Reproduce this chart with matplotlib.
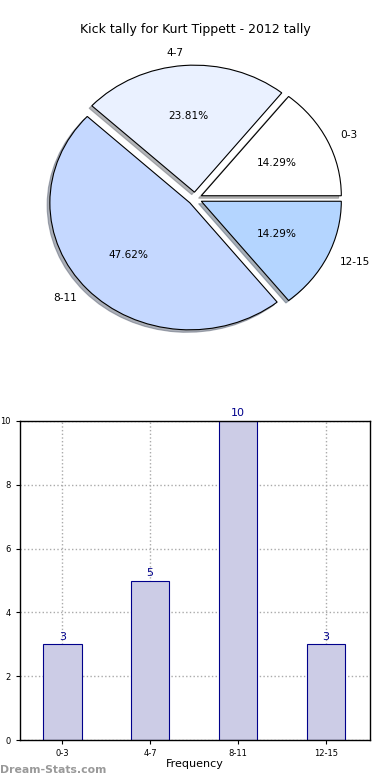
import matplotlib
matplotlib.use("Agg")
import matplotlib.pyplot as plt

# data
categories = ["0-3", "4-7", "8-11", "12-15"]
counts = [3, 5, 10, 3]
pie_colors = ["#ffffff", "#eaf1ff", "#c5d8ff", "#b4d5ff"]
title = "Kick tally for Kurt Tippett - 2012 tally"

plt.rcParams['font.family'] = ['DejaVu Sans']

fig = plt.figure(figsize=(3.9, 7.8), dpi=100)
fig.patch.set_facecolor("white")

# ---- pie (slightly squashed, like old matplotlib without equal aspect) ----
Rx, Ry = 140.0, 127.0
axp = fig.add_axes([0, 1 - (198.5 + 195) / 780, 1, 390 / 780])
axp.set_axis_off()
wedges, texts, autotexts = axp.pie(
    counts, labels=categories, colors=pie_colors, explode=[0.05] * 4,
    autopct="%1.2f%%", shadow=dict(ox=-0.014, oy=-0.014, shade=0.55),
    startangle=0, counterclock=True,
    wedgeprops=dict(edgecolor="black", linewidth=0.8),
    textprops=dict(fontsize=7.6))
axp.set_aspect("auto")
axp.set_xlim(-195 / Rx, 195 / Rx)
axp.set_ylim(-195 / Ry, 195 / Ry)
fig.text(0.5, 1 - 30 / 780, title, ha="center", va="center", fontsize=9)

# ---- bars ----
axb = fig.add_axes([20 / 390, 40 / 780, 350 / 390, 319 / 780])
x = list(range(len(categories)))
axb.bar(x, counts, width=0.44, color="#ccccE6", edgecolor="#00008b", linewidth=0.8, zorder=2)
for xi, c in zip(x, counts):
    axb.text(xi, c + 0.08, str(c), ha="center", va="bottom", color="#00008b", fontsize=8)
axb.set_xlim(-0.48, 3.5)
axb.set_ylim(0, 10)
axb.set_xticks(x)
axb.set_xticklabels(categories)
axb.set_yticks([0, 2, 4, 6, 8, 10])
axb.tick_params(labelsize=6, length=3, direction="out")
axb.grid(True, linestyle=":", color="#aaaaaa", linewidth=1, zorder=0)
axb.set_axisbelow(True)
axb.set_xlabel("Frequency", fontsize=8, labelpad=1)
axb.set_ylabel("Occurrences", fontsize=8)
axb.yaxis.set_label_coords(-0.062, 0.5)
for s in axb.spines.values():
    s.set_linewidth(1)

fig.text(0.0, 1 - 770 / 780, "Dream-Stats.com", ha="left", va="center",
         fontsize=7.8, color="#999999", fontweight="bold")

fig.savefig("out.png", dpi=100)
